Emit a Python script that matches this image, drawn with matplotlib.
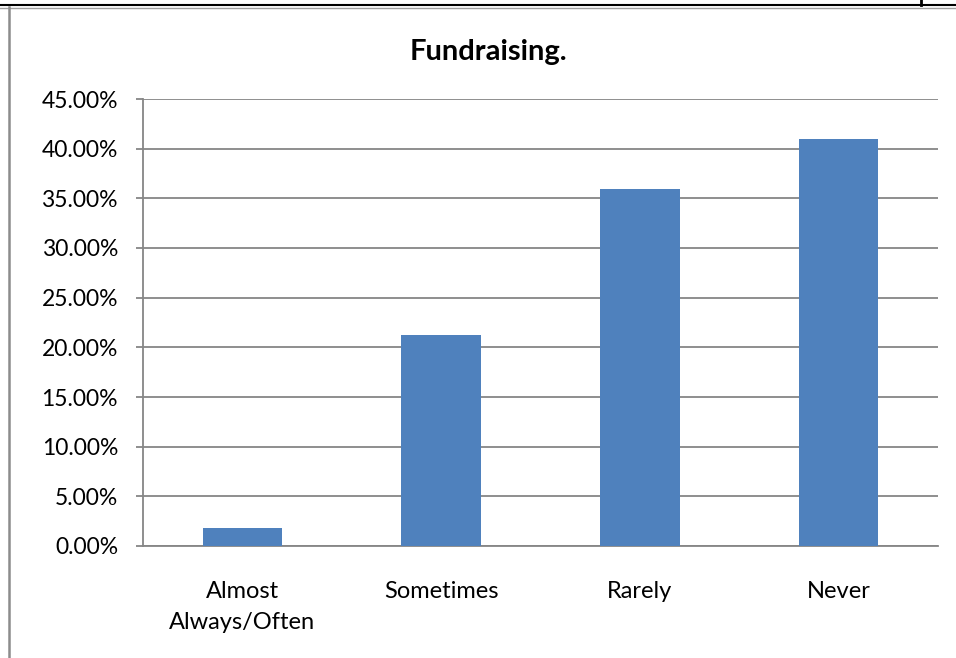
import matplotlib

matplotlib.use("Agg")

import matplotlib.pyplot as plt
from matplotlib.lines import Line2D
from matplotlib.ticker import FuncFormatter, MultipleLocator

plt.rcParams["font.family"] = ["Lato", "DejaVu Sans"]

# Data
categories = ["Almost\nAlways/Often", "Sometimes", "Rarely", "Never"]
percentages = [1.85, 21.2, 35.9, 40.95]
title = "Fundraising."

W, H = 956, 658
fig = plt.figure(figsize=(W / 100, H / 100), dpi=100)
ax = fig.add_axes([143 / W, 1 - 546 / H, (938 - 143) / W, (546 - 99) / H])

x = range(len(categories))
ax.bar(x, percentages, width=0.4, color="#4F81BD", zorder=3)

ax.set_xlim(-0.5, len(categories) - 0.5)
ax.set_ylim(0, 45)
ax.yaxis.set_major_locator(MultipleLocator(5))
ax.yaxis.set_major_formatter(FuncFormatter(lambda v, _: f"{v:.2f}%"))
ax.grid(axis="y", color="#868686", linewidth=1.3, zorder=0)
ax.set_axisbelow(True)

ax.set_xticks(list(x))
ax.set_xticklabels(categories, linespacing=1.6)
ax.tick_params(axis="x", length=0, pad=25, labelsize=17, colors="#000000")
ax.tick_params(axis="y", length=5, width=1.3, color="#868686", pad=13,
               labelsize=16.5)

for side in ["top", "right"]:
    ax.spines[side].set_visible(False)
for side in ["left", "bottom"]:
    ax.spines[side].set_color("#868686")
    ax.spines[side].set_linewidth(1.3)

fig.text(488 / W, 1 - 52 / H, title, ha="center", va="center",
         fontsize=21, fontweight="bold")

# page border lines around the chart
fig.add_artist(Line2D([0, 1], [1 - 5 / H, 1 - 5 / H], color="black",
                      linewidth=1.5, transform=fig.transFigure))
fig.add_artist(Line2D([0, 1], [1 - 7.5 / H, 1 - 7.5 / H], color="#A0A0A0",
                      linewidth=1.0, transform=fig.transFigure))
fig.add_artist(Line2D([8.5 / W, 8.5 / W], [0, 1 - 7 / H], color="#8C8C8C",
                      linewidth=1.8, transform=fig.transFigure))
fig.add_artist(Line2D([921 / W, 921 / W], [1 - 5 / H, 1], color="black",
                      linewidth=2.0, transform=fig.transFigure))

fig.savefig("out.png", dpi=100)
